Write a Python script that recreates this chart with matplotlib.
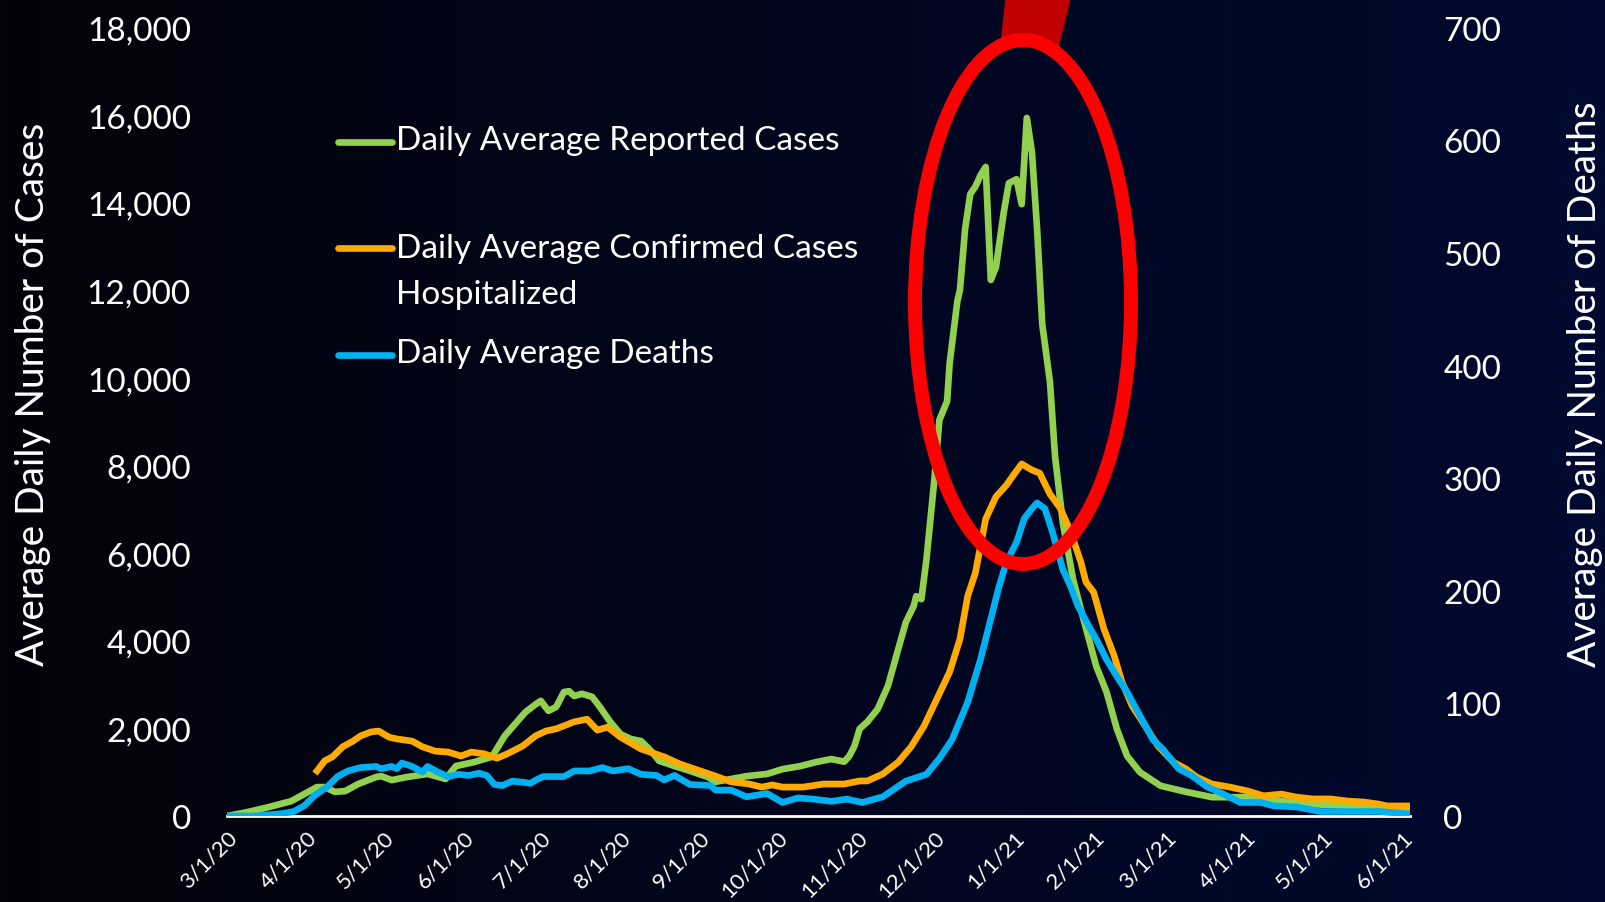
import matplotlib.pyplot as plt
import numpy as np
from matplotlib.lines import Line2D
from matplotlib.patches import Ellipse, Polygon

plt.rcParams['font.family'] = ['Lato', 'DejaVu Sans']

# 数据：以 2020-03-01 起算的天数
start = np.datetime64('2020-03-01')

case_days = [0, 8, 16, 25, 30, 35, 38, 42, 46, 51, 58, 60, 64, 70, 78, 85, 89, 96, 103, 108,
             116, 120, 122, 125, 128, 131, 133, 135, 138, 142, 145, 149, 153, 157, 161, 165,
             168, 174, 180, 187, 190, 196, 202, 210, 216, 223, 229, 235, 240, 242, 244, 246,
             249, 253, 257, 261, 264, 267, 268, 270, 272, 275, 277, 280, 281, 284, 285, 287,
             289, 291, 293, 295, 297, 299, 302, 304, 307, 309, 311, 313, 315, 317, 320, 322,
             325, 329, 333, 338, 342, 346, 350, 355, 363, 373, 383, 397, 410, 422, 436, 448, 459]
case_vals = [0, 90, 200, 340, 500, 660, 660, 550, 570, 730, 890, 910, 820, 890, 960, 845, 1140,
             1230, 1350, 1830, 2370, 2550, 2630, 2400, 2490, 2830, 2850, 2740, 2790, 2720, 2490,
             2150, 1870, 1760, 1710, 1480, 1260, 1140, 1030, 890, 780, 845, 910, 960, 1070, 1140,
             1230, 1300, 1240, 1370, 1600, 1990, 2150, 2440, 2970, 3810, 4430, 4790, 5020, 4950,
             5870, 7650, 9040, 9470, 10340, 11760, 12010, 13400, 14200, 14370, 14630, 14820,
             12240, 12530, 13770, 14450, 14540, 13970, 15940, 15160, 13400, 11230, 9910, 8200,
             6700, 5400, 4500, 3420, 2830, 1990, 1370, 1000, 690, 550, 430, 430, 340, 270, 230,
             160, 160]

hosp_days = [35, 38, 41, 45, 49, 52, 56, 59, 63, 66, 72, 76, 81, 86, 91, 95, 100, 105, 109, 115,
             120, 124, 128, 135, 140, 144, 148, 153, 161, 170, 176, 184, 190, 196, 203, 208, 212,
             216, 224, 232, 240, 246, 249, 255, 261, 266, 271, 276, 281, 285, 288, 291, 295, 299,
             303, 306, 309, 313, 316, 320, 324, 328, 332, 334, 337, 341, 345, 348, 352, 356, 362,
             368, 373, 377, 383, 390, 397, 403, 410, 416, 422, 429, 436, 442, 448, 451, 459]
hosp_vals = [1030, 1260, 1350, 1580, 1710, 1830, 1920, 1940, 1800, 1760, 1710, 1580, 1480, 1460,
             1370, 1460, 1420, 1320, 1420, 1600, 1830, 1940, 1990, 2150, 2210, 1960, 2030, 1800,
             1530, 1350, 1190, 1030, 910, 780, 730, 660, 710, 660, 660, 730, 730, 800, 800, 960,
             1230, 1580, 2050, 2670, 3290, 4040, 5020, 5550, 6780, 7290, 7550, 7800, 8040, 7900,
             7830, 7350, 7030, 6500, 5800, 5340, 5110, 4270, 3650, 3060, 2510, 2150, 1600, 1230,
             1070, 890, 730, 660, 570, 460, 500, 430, 390, 390, 340, 320, 270, 230, 230]

death_days = [0, 11, 21, 26, 30, 34, 39, 43, 47, 52, 58, 60, 64, 66, 68, 72, 76, 78, 82, 86, 90,
              94, 98, 101, 104, 107, 111, 115, 118, 121, 123, 131, 135, 141, 146, 150, 156, 161,
              167, 170, 174, 180, 188, 190, 196, 202, 210, 216, 222, 228, 235, 241, 247, 255, 264,
              272, 277, 282, 288, 293, 297, 300, 303, 307, 310, 313, 315, 318, 321, 325, 328, 331,
              335, 338, 342, 346, 350, 355, 360, 364, 370, 375, 381, 387, 394, 402, 407, 416, 425,
              433, 442, 448, 459]
death_vals = [0, 0, 2, 4, 9, 18, 26, 35, 40, 43, 44, 42, 44, 42, 47, 44, 39, 44, 39, 35, 37, 36,
              38, 36, 28, 27, 31, 30, 29, 33, 35, 35, 40, 40, 43, 40, 42, 37, 36, 32, 36, 28, 27,
              23, 23, 17, 20, 12, 16, 15, 13, 15, 12, 17, 31, 37, 51, 68, 101, 139, 175, 202, 225,
              243, 264, 273, 278, 273, 252, 219, 204, 186, 169, 157, 139, 124, 110, 89, 68, 59, 42,
              36, 26, 20, 12, 12, 9, 8, 4, 4, 4, 4, 2]

month_starts = ['2020-03-01', '2020-04-01', '2020-05-01', '2020-06-01', '2020-07-01', '2020-08-01',
                '2020-09-01', '2020-10-01', '2020-11-01', '2020-12-01', '2021-01-01', '2021-02-01',
                '2021-03-01', '2021-04-01', '2021-05-01', '2021-06-01']
month_labels = ['3/1/20', '4/1/20', '5/1/20', '6/1/20', '7/1/20', '8/1/20', '9/1/20', '10/1/20',
                '11/1/20', '12/1/20', '1/1/21', '2/1/21', '3/1/21', '4/1/21', '5/1/21', '6/1/21']

green = '#92D050'
orange = '#FFAA00'
blue = '#00B0F0'
W, H = 1605, 903
LW = 4.8

fig = plt.figure(figsize=(16.05, 9.03), dpi=100)

# 渐变背景：左黑右深蓝
bg = fig.add_axes([0, 0, 1, 1])
left_c = np.array([3, 3, 10]) / 255
right_c = np.array([0, 10, 48]) / 255
t = np.linspace(0, 1, 256)
grad = (left_c[None, :] * (1 - t[:, None]) + right_c[None, :] * t[:, None])[None, :, :]
bg.imshow(grad, aspect='auto', extent=[0, 1, 0, 1])
bg.axis('off')

ax = fig.add_axes([227 / W, 1 - 817 / H, (1410 - 227) / W, (817 - 28.7) / H])
ax.set_facecolor('none')
ax.plot(start + np.array(case_days), case_vals, color=green, lw=LW, zorder=2)
ax.plot(start + np.array(hosp_days), hosp_vals, color=orange, lw=LW, zorder=3)
ax2 = ax.twinx()
ax2.plot(start + np.array(death_days), death_vals, color=blue, lw=LW)

ax.set_xlim(start, start + 460)
ax.set_ylim(0, 18000)
ax2.set_ylim(0, 700)

ax.set_yticks(range(0, 18001, 2000))
ax.set_yticklabels([f'{v:,}' for v in range(0, 18001, 2000)])
ax2.set_yticks(range(0, 701, 100))
ax.set_xticks(np.array(month_starts, dtype='datetime64[D]'))
ax.set_xticklabels(month_labels, rotation=45, ha='right', va='top', rotation_mode='anchor')

for a in (ax, ax2):
    for s in a.spines.values():
        s.set_visible(False)
ax.spines['bottom'].set_visible(True)
ax.spines['bottom'].set_color('white')
ax.spines['bottom'].set_linewidth(2)

ax.tick_params(axis='y', length=0, colors='white', labelsize=24, pad=26)
ax2.tick_params(axis='y', length=0, colors='white', labelsize=24, pad=24)
ax.tick_params(axis='x', length=0, colors='white', labelsize=16, pad=8)

fig.text(33 / W, 1 - 394 / H, 'Average Daily Number of Cases', rotation=90, color='white',
         fontsize=28, ha='center', va='center')
fig.text(1585 / W, 1 - 384 / H, 'Average Daily Number of Deaths', rotation=90, color='white',
         fontsize=28, ha='center', va='center')

# 图例（手动绘制）
legend_items = [(143, green, 141, 'Daily Average Reported Cases'),
                (249, orange, 249, 'Daily Average Confirmed Cases'),
                (356, blue, 354, 'Daily Average Deaths')]
for ly, c, ty, txt in legend_items:
    fig.add_artist(Line2D([338 / W, 392 / W], [1 - ly / H, 1 - ly / H], color=c, lw=LW,
                          solid_capstyle='round', transform=fig.transFigure))
    fig.text(396 / W, 1 - ty / H, txt, color='white', fontsize=24, ha='left', va='center')
fig.text(396 / W, 1 - 295 / H, 'Hospitalized', color='white', fontsize=24, ha='left', va='center')

# 红色椭圆标注
blob = Polygon([(1001 / W, 1 - 45 / H), (1006 / W, 1.0), (1070 / W, 1.0), (1058 / W, 1 - 48 / H)],
               closed=True, color='#C00000', transform=fig.transFigure, zorder=5)
fig.add_artist(blob)
ring = Ellipse((1023 / W, 1 - 303 / H), 2 * 108 / W, 2 * 262 / H, fill=False, ec='#FF0000',
               lw=10, transform=fig.transFigure, zorder=6)
fig.add_artist(ring)

fig.savefig('out.png', dpi=100)
